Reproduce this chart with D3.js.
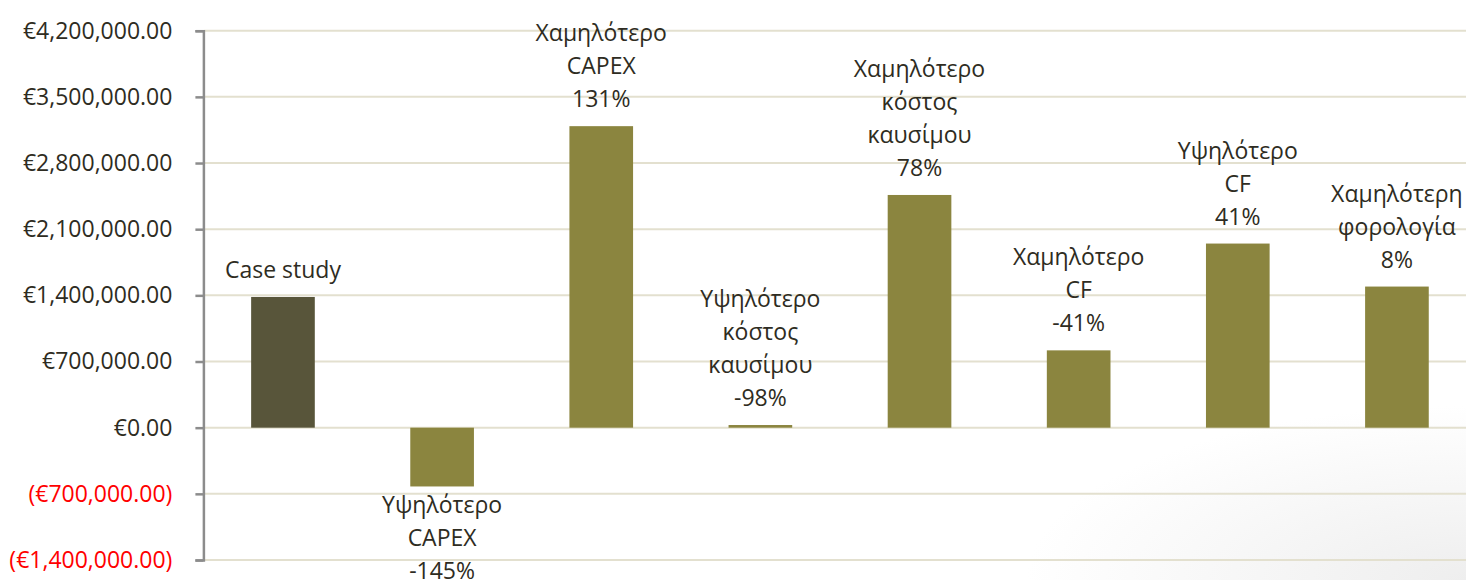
<!DOCTYPE html>
<html>
<head>
<meta charset="utf-8">
<style>
  body { margin: 0; background: #fff; }
  svg { display: block; font-family: "Open Sans", Lato, sans-serif; }
</style>
</head>
<body>
<svg width="1466" height="580"></svg>
<script src="https://cdn.jsdelivr.net/npm/d3@7"></script>
<script>

var categories = ["Case study", "Υψηλότερο CAPEX", "Χαμηλότερο CAPEX", "Υψηλότερο κόστος καυσίμου",
  "Χαμηλότερο κόστος καυσίμου", "Χαμηλότερο CF", "Υψηλότερο CF", "Χαμηλότερη φορολογία"];
var values = [1383000, -622000, 3190000, 28000, 2462000, 818000, 1948000, 1493000];
var labelLines = [
  ["Case study"],
  ["Υψηλότερο", "CAPEX", "-145%"],
  ["Χαμηλότερο", "CAPEX", "131%"],
  ["Υψηλότερο", "κόστος", "καυσίμου", "-98%"],
  ["Χαμηλότερο", "κόστος", "καυσίμου", "78%"],
  ["Χαμηλότερο", "CF", "-41%"],
  ["Υψηλότερο", "CF", "41%"],
  ["Χαμηλότερη", "φορολογία", "8%"]
];
var yTicks = [-1400000, -700000, 0, 700000, 1400000, 2100000, 2800000, 3500000, 4200000];

var svg = d3.select("svg"),
    margin = {top: 30.7, right: -10.5, bottom: 20, left: 203.4},
    width = +svg.attr("width") - margin.left - margin.right,
    height = 560 - margin.top,
    g = svg.append("g").attr("transform", "translate(" + margin.left + "," + margin.top + ")");

// faint shading in the lower right corner
var defs = svg.append("defs");
var grad = defs.append("radialGradient").attr("id", "shade")
    .attr("cx", "100%").attr("cy", "100%").attr("r", "30%");
grad.append("stop").attr("offset", "0%").attr("stop-color", "#eeeeee");
grad.append("stop").attr("offset", "100%").attr("stop-color", "#ffffff");
svg.append("rect").attr("x", 0).attr("y", 0).attr("width", 1466).attr("height", 580)
    .attr("fill", "url(#shade)").lower();

var x = d3.scaleBand()
    .domain(categories)
    .range([0, width])
    .paddingInner(0.6)
    .paddingOuter(0.3);

var y = d3.scaleLinear()
    .domain([-1400000, 4200000])
    .range([height, 0]);

var euro = d3.format(",.2f");
function fmt(d) {
  return d < 0 ? "(€" + euro(-d) + ")" : "€" + euro(d);
}

// gridlines
g.append("g")
  .selectAll("line")
  .data(yTicks)
  .enter().append("line")
    .attr("x1", 0)
    .attr("x2", width)
    .attr("y1", function(d) { return y(d); })
    .attr("y2", function(d) { return y(d); })
    .attr("stroke", "#e3e0cf")
    .attr("stroke-width", 2);

// bars
g.append("g")
  .selectAll("rect")
  .data(values)
  .enter().append("rect")
    .attr("x", function(d, i) { return x(categories[i]); })
    .attr("width", x.bandwidth())
    .attr("y", function(d) { return y(Math.max(0, d)); })
    .attr("height", function(d) { return Math.abs(y(d) - y(0)); })
    .attr("fill", function(d, i) { return i === 0 ? "#58553a" : "#8b853f"; });

// y axis
var yAxis = g.append("g")
    .call(d3.axisLeft(y).tickValues(yTicks).tickFormat(fmt).tickSize(8).tickPadding(23));
yAxis.select(".domain").attr("stroke", "#8c8c8c").attr("stroke-width", 2.5);
yAxis.selectAll(".tick line").attr("stroke", "#8c8c8c").attr("stroke-width", 2.5);
yAxis.selectAll(".tick text")
    .attr("font-size", 23)
    .attr("font-family", "'Open Sans', Lato, sans-serif")
    .attr("fill", function(d) { return d < 0 ? "#ff0000" : "#2e2c22"; });

// data labels
var lineH = 33;
var labels = g.append("g")
  .selectAll("text")
  .data(values)
  .enter().append("text")
    .attr("text-anchor", "middle")
    .attr("font-size", 23)
    .attr("fill", "#2e2c22")
    .attr("x", function(d, i) { return x(categories[i]) + x.bandwidth() / 2; })
    .attr("y", function(d, i) {
      var n = labelLines[i].length;
      if (d < 0) return y(d) + 27;
      return y(d) - 19 - (n - 1) * lineH;
    });

labels.selectAll("tspan")
  .data(function(d, i) { return labelLines[i]; })
  .enter().append("tspan")
    .attr("x", function() { return d3.select(this.parentNode).attr("x"); })
    .attr("dy", function(d, j) { return j === 0 ? 0 : lineH; })
    .text(function(d) { return d; });

</script>
</body>
</html>
